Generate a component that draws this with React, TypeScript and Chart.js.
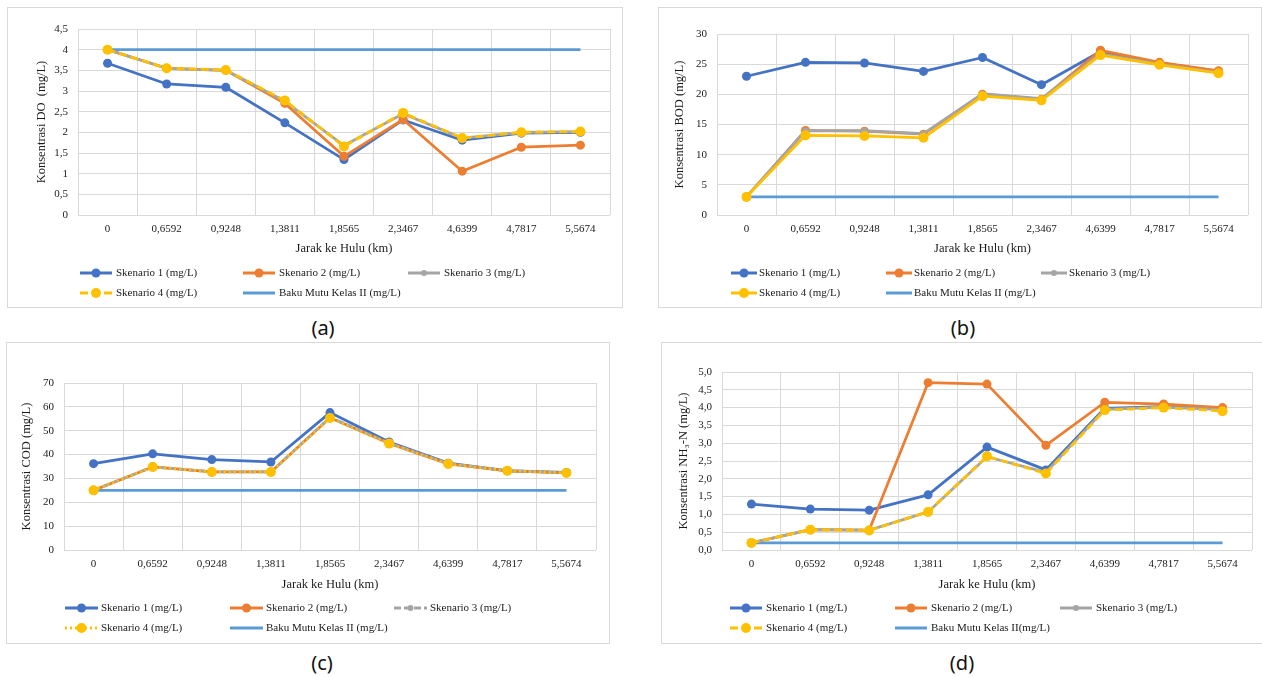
import React, { useEffect, useRef } from 'react';
import { Chart, registerables } from 'chart.js';
Chart.register(...registerables);

// ---- data ----
const categories = ['0', '0,6592', '0,9248', '1,3811', '1,8565', '2,3467', '4,6399', '4,7817', '5,5674'];
const seriesNames = ['Skenario 1 (mg/L)', 'Skenario 2 (mg/L)', 'Skenario 3 (mg/L)', 'Skenario 4 (mg/L)'];

const doS1 = [3.67, 3.17, 3.09, 2.23, 1.34, 2.30, 1.81, 1.98, 2.00];
const doS2 = [4.00, 3.55, 3.50, 2.70, 1.42, 2.31, 1.06, 1.64, 1.69];
const doS3 = [4.00, 3.55, 3.50, 2.75, 1.68, 2.45, 1.86, 2.00, 2.02];
const doS4 = [4.00, 3.55, 3.51, 2.77, 1.66, 2.47, 1.86, 2.00, 2.02];
const doBaku = [4, 4, 4, 4, 4, 4, 4, 4, 4];

const bodS1 = [23.0, 25.3, 25.2, 23.8, 26.1, 21.6, 27.1, 25.2, 23.8];
const bodS2 = [3.0, 14.0, 13.9, 13.4, 20.0, 19.2, 27.3, 25.3, 23.9];
const bodS3 = [3.0, 14.0, 14.0, 13.5, 20.1, 19.3, 26.7, 25.0, 23.6];
const bodS4 = [3.0, 13.2, 13.1, 12.8, 19.7, 19.0, 26.5, 24.9, 23.5];
const bodBaku = [3, 3, 3, 3, 3, 3, 3, 3, 3];

const codS1 = [36.2, 40.3, 37.9, 36.9, 57.6, 45.3, 36.4, 33.2, 32.5];
const codS2 = [25.0, 34.8, 32.7, 32.7, 55.4, 44.7, 36.1, 33.2, 32.3];
const codS3 = [25.0, 34.9, 32.8, 32.7, 55.6, 44.8, 36.2, 33.3, 32.4];
const codS4 = [25.0, 34.8, 32.7, 32.7, 55.3, 44.6, 36.1, 33.2, 32.3];
const codBaku = [25, 25, 25, 25, 25, 25, 25, 25, 25];

const nhS1 = [1.29, 1.15, 1.12, 1.55, 2.89, 2.25, 3.98, 4.03, 3.97];
const nhS2 = [0.20, 0.57, 0.56, 4.70, 4.66, 2.94, 4.15, 4.10, 4.00];
const nhS3 = [0.20, 0.57, 0.56, 1.07, 2.62, 2.18, 3.95, 4.01, 3.94];
const nhS4 = [0.20, 0.57, 0.55, 1.07, 2.63, 2.15, 3.93, 4.00, 3.90];
const nhBaku = [0.2, 0.2, 0.2, 0.2, 0.2, 0.2, 0.2, 0.2, 0.2];

// ---- styles ----
const C1 = '#4472C4';
const C2 = '#ED7D31';
const C3 = '#A5A5A5';
const C4 = '#FFC000';
const CB = '#5B9BD5';
const GRID = '#d9d9d9';
const TXT = '#1a1a1a';
const FONT = '"Liberation Serif", "Times New Roman", serif';

type Spec = {
  left: number; top: number; w: number; h: number;
  pl: number; pr: number; pt: number; pb: number;
  titleY: number; yTitleX: number;
  yTitle: string; yMax: number; yStep: number; fmt: (v: number) => string;
  data: number[][]; baku: number[]; bakuLabel: string;
  dash3: number[]; dash4: number[];
  legendCols: number[]; lineLen: number; gap: number; rows: number[];
  label: string; labelX: number; labelY: number;
};

const specs: Spec[] = [
  {
    left: 7, top: 7, w: 616, h: 301, pl: 71, pr: 603, pt: 22, pb: 208, titleY: 242, yTitleX: 35,
    yTitle: 'Konsentrasi DO  (mg/L)', yMax: 4.5, yStep: 0.5, fmt: (v) => String(v).replace('.', ','),
    data: [doS1, doS2, doS3, doS4], baku: doBaku, bakuLabel: 'Baku Mutu Kelas II (mg/L)',
    dash3: [], dash4: [8, 4],
    legendCols: [73, 236, 401], lineLen: 32, gap: 4, rows: [266, 286],
    label: '(a)', labelX: 323, labelY: 328,
  },
  {
    left: 658, top: 7, w: 604, h: 301, pl: 59, pr: 590, pt: 27, pb: 208, titleY: 242, yTitleX: 22,
    yTitle: 'Konsentrasi BOD (mg/L)', yMax: 30, yStep: 5, fmt: (v) => String(v),
    data: [bodS1, bodS2, bodS3, bodS4], baku: bodBaku, bakuLabel: 'Baku Mutu Kelas II (mg/L)',
    dash3: [], dash4: [],
    legendCols: [73, 228, 383], lineLen: 26, gap: 2, rows: [266, 286],
    label: '(b)', labelX: 963, labelY: 328,
  },
  {
    left: 6, top: 342, w: 604, h: 302, pl: 58, pr: 590, pt: 41, pb: 208, titleY: 243, yTitleX: 21,
    yTitle: 'Konsentrasi COD (mg/L)', yMax: 70, yStep: 10, fmt: (v) => String(v),
    data: [codS1, codS2, codS3, codS4], baku: codBaku, bakuLabel: 'Baku Mutu Kelas II (mg/L)',
    dash3: [7, 3], dash4: [2, 3],
    legendCols: [59, 224, 388], lineLen: 33, gap: 3, rows: [266, 286],
    label: '(c)', labelX: 322, labelY: 663,
  },
  {
    left: 661, top: 342, w: 610, h: 302, pl: 61, pr: 591, pt: 30, pb: 208, titleY: 243, yTitleX: 23,
    yTitle: 'Konsentrasi NH\u2083-N (mg/L)', yMax: 5, yStep: 0.5, fmt: (v) => v.toFixed(1).replace('.', ','),
    data: [nhS1, nhS2, nhS3, nhS4], baku: nhBaku, bakuLabel: 'Baku Mutu Kelas II(mg/L)',
    dash3: [], dash4: [8, 4],
    legendCols: [69, 234, 399], lineLen: 32, gap: 4, rows: [266, 286],
    label: '(d)', labelX: 962, labelY: 663,
  },
];

const colors = [C1, C2, C3, C4];
const radii = [4.5, 4.5, 3, 5];

function buildConfig(s: Spec): any {
  const xH = s.titleY - s.pb + 7.5;
  const datasets: any[] = s.data.map((d, i) => ({
    label: seriesNames[i],
    data: d,
    borderColor: colors[i],
    backgroundColor: colors[i],
    pointBackgroundColor: colors[i],
    pointBorderColor: colors[i],
    pointBorderWidth: 0,
    pointRadius: radii[i],
    pointHoverRadius: radii[i],
    borderWidth: 2.75,
    borderDash: i === 2 ? s.dash3 : i === 3 ? s.dash4 : [],
    borderCapStyle: 'butt',
    borderJoinStyle: 'round',
    tension: 0,
    fill: false,
    order: 3 - i,
  }));
  datasets.push({
    label: s.bakuLabel,
    data: s.baku,
    borderColor: CB,
    backgroundColor: CB,
    pointRadius: 0,
    pointHoverRadius: 0,
    borderWidth: 2.75,
    tension: 0,
    fill: false,
    order: 4,
  });

  const legendItems = [
    { label: seriesNames[0], color: C1, dash: [], r: 4.5, marker: true },
    { label: seriesNames[1], color: C2, dash: [], r: 4.5, marker: true },
    { label: seriesNames[2], color: C3, dash: s.dash3, r: 3, marker: true },
    { label: seriesNames[3], color: C4, dash: s.dash4, r: 5, marker: true },
    { label: s.bakuLabel, color: CB, dash: [], r: 0, marker: false },
  ];

  const legendPlugin = {
    id: 'boxLegend',
    afterDraw(chart: any) {
      const ctx = chart.ctx;
      ctx.save();
      legendItems.forEach((it, i) => {
        const x = s.legendCols[i % 3];
        const y = s.rows[Math.floor(i / 3)];
        ctx.strokeStyle = it.color;
        ctx.lineWidth = 3;
        ctx.lineCap = 'butt';
        ctx.setLineDash(it.dash);
        ctx.beginPath();
        ctx.moveTo(x, y);
        ctx.lineTo(x + s.lineLen, y);
        ctx.stroke();
        ctx.setLineDash([]);
        if (it.marker) {
          ctx.fillStyle = it.color;
          ctx.beginPath();
          ctx.arc(x + s.lineLen / 2, y, it.r, 0, Math.PI * 2);
          ctx.fill();
        }
        ctx.fillStyle = TXT;
        ctx.font = '11px ' + FONT;
        ctx.textBaseline = 'middle';
        ctx.textAlign = 'left';
        ctx.fillText(it.label, x + s.lineLen + s.gap, y);
      });
      ctx.restore();
    },
  };

  return {
    type: 'line',
    data: { labels: categories, datasets },
    plugins: [legendPlugin],
    options: {
      responsive: false,
      animation: false,
      events: [],
      layout: { padding: { left: 0, top: s.pt, right: s.w - s.pr, bottom: s.h - s.pb - xH } },
      plugins: { legend: { display: false }, tooltip: { enabled: false }, title: { display: false } },
      scales: {
        x: {
          type: 'category',
          offset: true,
          grid: { offset: true, color: GRID, lineWidth: 1, drawTicks: false },
          border: { display: false },
          ticks: { color: TXT, font: { family: FONT, size: 11 }, padding: 8, maxRotation: 0, autoSkip: false },
          title: { display: true, text: 'Jarak ke Hulu (km)', color: TXT, font: { family: FONT, size: 12.5 }, padding: { top: 0, bottom: 0 } },
          afterFit: (sc: any) => { sc.height = xH; },
        },
        y: {
          min: 0,
          max: s.yMax,
          grid: { color: GRID, lineWidth: 1, drawTicks: false },
          border: { display: false },
          ticks: { stepSize: s.yStep, color: TXT, font: { family: FONT, size: 11 }, padding: 10, callback: (v: any) => s.fmt(Number(v)) },
          title: { display: true, text: s.yTitle, color: TXT, font: { family: FONT, size: 12.5 }, padding: { top: s.yTitleX - 7.5, bottom: 0 } },
          afterFit: (sc: any) => { sc.width = s.pl; },
        },
      },
    },
  };
}

function ChartBox({ spec }: { spec: Spec }) {
  const ref = useRef<HTMLCanvasElement>(null);
  useEffect(() => {
    const chart = new Chart(ref.current as HTMLCanvasElement, buildConfig(spec));
    return () => chart.destroy();
  }, [spec]);
  return (
    <>
      <div style={{ position: 'absolute', left: spec.left, top: spec.top, width: spec.w, height: spec.h }}>
        <canvas ref={ref} width={spec.w} height={spec.h} style={{ position: 'absolute', left: 0, top: 0, width: spec.w, height: spec.h }} />
        <div style={{ position: 'absolute', left: 0, top: 0, width: spec.w, height: spec.h, border: '1px solid ' + GRID, boxSizing: 'border-box', pointerEvents: 'none' }} />
      </div>
      <div style={{ position: 'absolute', left: spec.labelX - 40, top: spec.labelY - 14, width: 80, height: 28, lineHeight: '28px', textAlign: 'center', fontFamily: '"Noto Sans", "Open Sans", sans-serif', fontSize: 20, color: '#111' }}>
        {spec.label}
      </div>
    </>
  );
}

export default function App() {
  return (
    <div style={{ position: 'absolute', left: 0, top: 0, width: 1262, height: 677, overflow: 'hidden', background: '#fff' }}>
      {specs.map((s, i) => <ChartBox key={i} spec={s} />)}
    </div>
  );
}
